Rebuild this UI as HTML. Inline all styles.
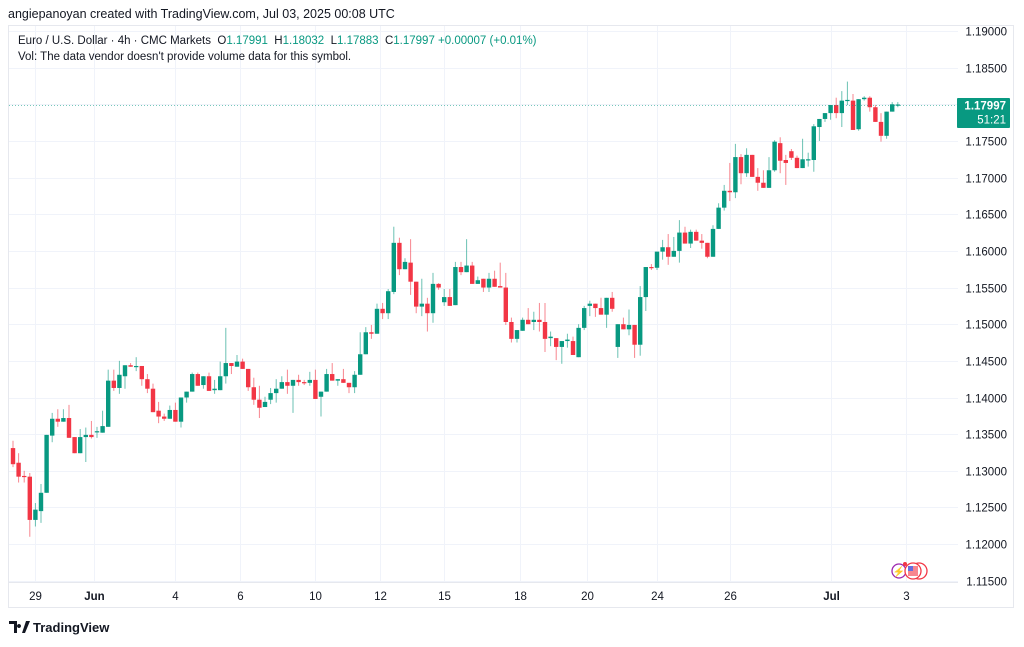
<!DOCTYPE html>
<html><head><meta charset="utf-8">
<style>
html,body{margin:0;padding:0;background:#fff;}
body{width:1024px;height:642px;overflow:hidden;font-family:"Liberation Sans",sans-serif;}
svg text{font-family:"Liberation Sans",sans-serif;}
</style></head>
<body>
<svg id="chart" width="1024" height="642" viewBox="0 0 1024 642" xmlns="http://www.w3.org/2000/svg">
  <text x="8" y="18" font-size="12.5" fill="#131722">angiepanoyan created with TradingView.com, Jul 03, 2025 00:08 UTC</text>
  <rect x="8.5" y="25.5" width="1005" height="582" fill="none" stroke="#e6e8ee"/>
  <g id="grid"></g>
  <line x1="9" y1="582.5" x2="958" y2="582.5" stroke="#e6e8ee"/>
  <g id="candles"></g>
  <line id="lastline" x1="9" x2="958" stroke="#089981" stroke-opacity="0.55" stroke-dasharray="1,2" stroke-width="1"/>
  <g id="yaxis"></g>
  <g id="xaxis"></g>
  <g id="pricetag"></g>
  <text x="18" y="44" font-size="11.5" fill="#131722" xml:space="preserve">Euro / U.S. Dollar · 4h · CMC Markets  <tspan>O</tspan><tspan fill="#089981">1.17991</tspan>  H<tspan fill="#089981">1.18032</tspan>  L<tspan fill="#089981">1.17883</tspan>  C<tspan fill="#089981">1.17997</tspan> <tspan fill="#089981">+0.00007 (+0.01%)</tspan></text>
  <text x="18" y="60" font-size="11.5" fill="#131722">Vol: The data vendor doesn't provide volume data for this symbol.</text>
  <g>
    <circle cx="899" cy="571" r="7" fill="#fff" stroke="#9c27b0" stroke-width="1.3"/>
    <text x="899" y="575" font-size="10" fill="#9c27b0" text-anchor="middle">⚡</text>
    <circle cx="919" cy="571" r="8" fill="#fff" stroke="#f23645" stroke-width="1.3"/>
    <circle cx="913" cy="571" r="8" fill="#fff" stroke="#f23645" stroke-width="1.3"/>
    <rect x="908" y="566" width="10" height="10" fill="#f23645" opacity="0.6"/>
    <rect x="908" y="566" width="5" height="5" fill="#2962ff" opacity="0.7"/>
    <circle cx="905" cy="564" r="2" fill="#f23645"/>
  </g>
  <g>
    <path d="M9 621h8v12h-3v-9H9z M19 624a2 2 0 1 0 0.01 0z M22 633l4-12h4l-5 12z" fill="#131722"/>
    <text x="33" y="632" font-size="13" fill="#131722" font-weight="bold">TradingView</text>
  </g>
</svg>
<script>
const opens=[1.1331,1.1311,1.1293,1.1292,1.1233,1.1245,1.1270,1.1348,1.1371,1.1367,1.1372,1.1346,1.1324,1.1346,1.1349,1.1353,1.1352,1.1360,1.1423,1.1413,1.1429,1.1444,1.1442,1.1443,1.1425,1.1412,1.1382,1.1374,1.1371,1.1383,1.1367,1.1400,1.1408,1.1432,1.1417,1.1429,1.1410,1.1410,1.1429,1.1447,1.1442,1.1449,1.1439,1.1414,1.1397,1.1387,1.1397,1.1406,1.1412,1.1421,1.1416,1.1424,1.1421,1.1420,1.1424,1.1401,1.1408,1.1432,1.1423,1.1425,1.1420,1.1414,1.1431,1.1459,1.1489,1.1487,1.1521,1.1515,1.1544,1.1611,1.1575,1.1584,1.1558,1.1524,1.1528,1.1515,1.1555,1.1530,1.1537,1.1526,1.1578,1.1571,1.1580,1.1555,1.1562,1.1550,1.1562,1.1552,1.1550,1.1503,1.1480,1.1491,1.1506,1.1503,1.1506,1.1503,1.1481,1.1481,1.1469,1.1477,1.1477,1.1455,1.1495,1.1525,1.1528,1.1522,1.1513,1.1536,1.1469,1.1500,1.1493,1.1499,1.1472,1.1537,1.1578,1.1577,1.1599,1.1605,1.1592,1.1600,1.1625,1.1610,1.1626,1.1614,1.1611,1.1592,1.1630,1.1659,1.1682,1.1680,1.1728,1.1706,1.1731,1.1701,1.1693,1.1686,1.1710,1.1747,1.1724,1.1736,1.1727,1.1713,1.1724,1.1724,1.1769,1.1780,1.1788,1.1799,1.1788,1.1805,1.1805,1.1766,1.1807,1.1809,1.1796,1.1776,1.1757,1.1790,1.1799];
const highs=[1.1341,1.1324,1.1300,1.1297,1.1256,1.1282,1.1349,1.1379,1.1384,1.1384,1.1390,1.1346,1.1357,1.1359,1.1368,1.1360,1.1382,1.1438,1.1438,1.1450,1.1444,1.1447,1.1455,1.1443,1.1432,1.1419,1.1394,1.1378,1.1389,1.1393,1.1400,1.1408,1.1434,1.1434,1.1429,1.1434,1.1424,1.1449,1.1495,1.1447,1.1458,1.1453,1.1439,1.1427,1.1416,1.1401,1.1413,1.1425,1.1429,1.1438,1.1424,1.1431,1.1424,1.1435,1.1438,1.1408,1.1439,1.1447,1.1425,1.1439,1.1420,1.1436,1.1489,1.1496,1.1499,1.1528,1.1529,1.1548,1.1633,1.1618,1.1590,1.1616,1.1558,1.1562,1.1536,1.1570,1.1556,1.1548,1.1548,1.1585,1.1585,1.1616,1.1585,1.1565,1.1562,1.1570,1.1573,1.1584,1.1570,1.1509,1.1492,1.1509,1.1522,1.1517,1.1529,1.1529,1.1490,1.1481,1.1477,1.1487,1.1483,1.1500,1.1525,1.1532,1.1528,1.1536,1.1536,1.1544,1.1500,1.1509,1.1520,1.1499,1.1552,1.1578,1.1582,1.1599,1.1615,1.1623,1.1619,1.1642,1.1633,1.1629,1.1629,1.1623,1.1611,1.1635,1.1665,1.1690,1.1720,1.1746,1.1732,1.1740,1.1731,1.1713,1.1710,1.1728,1.1751,1.1755,1.1731,1.1739,1.1730,1.1753,1.1734,1.1773,1.1780,1.1788,1.1799,1.1809,1.1818,1.1831,1.1814,1.1807,1.1811,1.1811,1.1799,1.1788,1.1790,1.1803,1.1803];
const lows=[1.1305,1.1284,1.1284,1.1210,1.1224,1.1229,1.1270,1.1339,1.1360,1.1367,1.1345,1.1324,1.1324,1.1312,1.1344,1.1345,1.1352,1.1360,1.1409,1.1405,1.1412,1.1442,1.1436,1.1416,1.1406,1.1380,1.1365,1.1368,1.1371,1.1367,1.1359,1.1393,1.1408,1.1416,1.1412,1.1409,1.1405,1.1410,1.1419,1.1432,1.1442,1.1439,1.1409,1.1390,1.1372,1.1387,1.1391,1.1393,1.1412,1.1405,1.1379,1.1416,1.1417,1.1416,1.1398,1.1374,1.1408,1.1423,1.1416,1.1420,1.1406,1.1406,1.1431,1.1459,1.1480,1.1487,1.1507,1.1507,1.1541,1.1567,1.1575,1.1540,1.1515,1.1511,1.1490,1.1502,1.1547,1.1525,1.1525,1.1526,1.1567,1.1571,1.1555,1.1555,1.1544,1.1544,1.1551,1.1550,1.1499,1.1475,1.1475,1.1491,1.1500,1.1492,1.1490,1.1462,1.1470,1.1451,1.1446,1.1468,1.1458,1.1455,1.1492,1.1511,1.1510,1.1513,1.1495,1.1517,1.1454,1.1493,1.1485,1.1454,1.1457,1.1518,1.1574,1.1574,1.1588,1.1581,1.1592,1.1584,1.1610,1.1604,1.1614,1.1603,1.1590,1.1592,1.1630,1.1655,1.1668,1.1672,1.1691,1.1701,1.1701,1.1682,1.1686,1.1686,1.1708,1.1706,1.1690,1.1724,1.1713,1.1713,1.1715,1.1708,1.1750,1.1776,1.1779,1.1781,1.1769,1.1799,1.1765,1.1764,1.1805,1.1790,1.1776,1.1749,1.1753,1.1790,1.1796];
const closes=[1.1309,1.1292,1.1292,1.1233,1.1247,1.1270,1.1349,1.1371,1.1367,1.1372,1.1345,1.1324,1.1346,1.1349,1.1346,1.1354,1.1361,1.1423,1.1413,1.1431,1.1444,1.1442,1.1443,1.1425,1.1412,1.1380,1.1374,1.1371,1.1383,1.1367,1.1400,1.1408,1.1432,1.1416,1.1429,1.1409,1.1412,1.1429,1.1447,1.1443,1.1449,1.1439,1.1414,1.1397,1.1386,1.1394,1.1406,1.1412,1.1421,1.1416,1.1424,1.1421,1.1420,1.1424,1.1398,1.1408,1.1432,1.1423,1.1425,1.1420,1.1414,1.1431,1.1459,1.1489,1.1487,1.1521,1.1515,1.1545,1.1611,1.1575,1.1585,1.1558,1.1524,1.1528,1.1515,1.1555,1.1550,1.1537,1.1525,1.1578,1.1571,1.1580,1.1555,1.1560,1.1550,1.1562,1.1551,1.1550,1.1503,1.1480,1.1492,1.1506,1.1500,1.1506,1.1503,1.1480,1.1483,1.1469,1.1477,1.1479,1.1458,1.1495,1.1522,1.1528,1.1522,1.1513,1.1536,1.1521,1.1500,1.1493,1.1499,1.1472,1.1537,1.1578,1.1577,1.1599,1.1605,1.1592,1.1600,1.1625,1.1610,1.1626,1.1614,1.1611,1.1592,1.1630,1.1659,1.1682,1.1680,1.1728,1.1706,1.1731,1.1701,1.1693,1.1686,1.1710,1.1749,1.1723,1.1720,1.1727,1.1713,1.1725,1.1725,1.1770,1.1780,1.1788,1.1799,1.1788,1.1805,1.1806,1.1765,1.1807,1.1809,1.1796,1.1776,1.1757,1.1790,1.1800,1.17997];
const priceTicks=[1.19,1.185,1.18,1.175,1.17,1.165,1.16,1.155,1.15,1.145,1.14,1.135,1.13,1.125,1.12,1.115];
const timeLabels=["29","Jun","4","6","10","12","15","18","20","24","26","Jul","3"];
const timeLabelIndex=[4,14.5,29,40.5,54,65.5,77,90.5,102.5,115,128,146,159.5];
const boldLabels=["Jun","Jul"];
const lastPrice=1.17997;
const countdown="51:21";

const NS="http://www.w3.org/2000/svg";
const Y0=31, PXPER=36.65/0.005;
function yScale(p){return Y0+(1.19-p)*PXPER;}
function xScale(i){return 13+i*5.6;}
function mk(tag,attrs,parent){const e=document.createElementNS(NS,tag);for(const k in attrs)e.setAttribute(k,attrs[k]);parent.appendChild(e);return e;}

const grid=document.getElementById('grid');
const yaxis=document.getElementById('yaxis');
priceTicks.forEach(p=>{
  const y=Math.round(yScale(p))+0.5;
  const gl=mk('line',{x1:9,x2:958,y1:y,y2:y,stroke:'#f0f3fa'},grid);
  
  
  const t=mk('text',{x:1007,y:y+4,'font-size':11.5,fill:'#131722','text-anchor':'end'},yaxis);
  
  
  t.textContent=p.toFixed(5);
});
const xaxis=document.getElementById('xaxis');
timeLabels.forEach((lab,k)=>{
  const x=Math.round(xScale(timeLabelIndex[k]))+0.5;
  const gl=mk('line',{x1:x,x2:x,y1:26,y2:582,stroke:'#f0f3fa'},grid);
  
  
  const t=mk('text',{x:x,y:600,'font-size':11.5,fill:'#131722','text-anchor':'middle','font-weight':boldLabels.includes(lab)?'bold':'normal'},xaxis);
  
  
  t.textContent=lab;
});
const cg=document.getElementById('candles');
opens.forEach((o,i)=>{
  const c=closes[i],h=highs[i],l=lows[i];
  const up=c>=o;
  const col=up?'#089981':'#f23645';
  const x=xScale(i);
  const g=mk('g',{},cg);
  
  
  mk('line',{x1:x,x2:x,y1:yScale(h),y2:yScale(l),stroke:col,'stroke-opacity':0.6,'stroke-width':1},g);
  const yt=yScale(Math.max(o,c)),yb=yScale(Math.min(o,c));
  mk('rect',{x:x-2.2,y:yt,width:4.4,height:Math.max(1.2,yb-yt),fill:col},g);
});
const ly=Math.round(yScale(lastPrice))+0.5;
const ll=document.getElementById('lastline');ll.setAttribute('y1',ly);ll.setAttribute('y2',ly);
const pt=document.getElementById('pricetag');
mk('rect',{x:957,y:ly-7.5,width:53,height:30,fill:'#089981',rx:1},pt);
const t1=mk('text',{x:1006,y:ly+4,'font-size':11.5,'font-weight':'bold',fill:'#fff','text-anchor':'end'},pt);


t1.textContent=lastPrice.toFixed(5);
const t2=mk('text',{x:1006,y:ly+18,'font-size':11.5,fill:'#fff','text-anchor':'end'},pt);


t2.textContent=countdown;
</script>
</body></html>
